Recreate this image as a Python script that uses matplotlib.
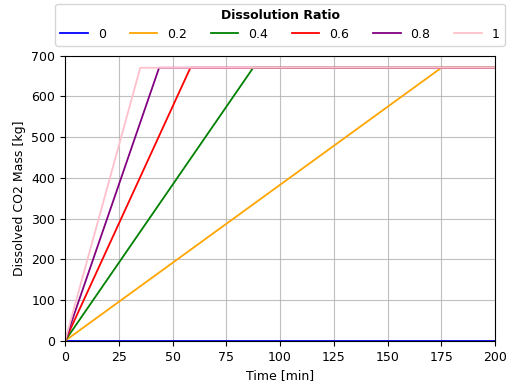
import matplotlib
matplotlib.use("Agg")
import matplotlib.pyplot as plt

# dissolution ratios and the time (min) each one reaches saturation
ratios = ['0', '0.2', '0.4', '0.6', '0.8', '1']
t_sat = [None, 175.0, 87.5, 58.3, 43.75, 35.0]
m_sat = 670.0  # kg, saturated dissolved mass
t_end = 200.0
colors = ['blue', 'orange', 'green', 'red', 'purple', 'pink']

fig = plt.figure(figsize=(5.12, 3.83), dpi=100)
ax = fig.add_axes([0.127, 0.11, 0.84, 0.745])

for r, ts, c in zip(ratios, t_sat, colors):
    if ts is None:
        t = [0, t_end]
        m = [0, 0]
    else:
        t = [0, ts, t_end]
        m = [0, m_sat, m_sat]
    ax.plot(t, m, color=c, lw=1.3, label=r)

ax.set_xlim(0, 200)
ax.set_ylim(0, 700)
ax.set_xticks(range(0, 201, 25))
ax.set_yticks(range(0, 701, 100))
ax.grid(True, color='#b0b0b0', lw=0.8, alpha=0.8)
ax.set_xlabel('Time [min]', fontsize=9)
ax.set_ylabel('Dissolved CO2 Mass [kg]', fontsize=9)
ax.tick_params(labelsize=9)

leg = ax.legend(ncol=6, loc='lower center', bbox_to_anchor=(0.5, 1.021),
                title='Dissolution Ratio', fontsize=9, frameon=True,
                borderaxespad=0.3, columnspacing=1.9, handlelength=2.2)
leg.get_title().set_fontweight('bold')
leg.get_title().set_fontsize(9)

plt.savefig('out.png', dpi=100)
